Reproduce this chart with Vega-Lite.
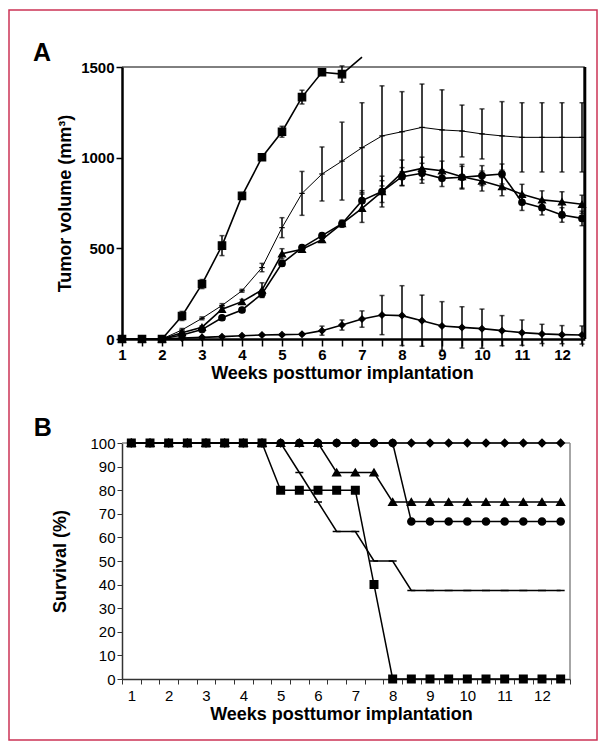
{
"$schema": "https://vega.github.io/schema/vega-lite/v6.json",
"width": 588, "height": 730,
"autosize": {"type": "none"},
"padding": {"left": 9, "top": 10, "right": 9, "bottom": 9},
"background": "white",
"config": {
  "view": {"stroke": "#cc3355", "strokeWidth": 1.5},
  "axis": {"grid": false, "ticks": true, "tickOpacity": 1, "domainColor": "black", "tickColor": "black", "labelColor": "black", "titleColor": "black", "labelFont": "Liberation Sans", "titleFont": "Liberation Sans", "labelFlush": false, "labelOverlap": false},
  "text": {"font": "Liberation Sans"}
},
"datasets": {
"vol": [
{"w":1,"s":"di","v":0,"e":0},{"w":1.5,"s":"di","v":0,"e":0},{"w":2,"s":"di","v":0,"e":0},{"w":2.5,"s":"di","v":5,"e":2},{"w":3,"s":"di","v":9,"e":3},{"w":3.5,"s":"di","v":13,"e":4},{"w":4,"s":"di","v":18,"e":4},{"w":4.5,"s":"di","v":22,"e":4},{"w":5,"s":"di","v":24,"e":5},{"w":5.5,"s":"di","v":26,"e":6},{"w":6,"s":"di","v":46,"e":25},{"w":6.5,"s":"di","v":77,"e":28},{"w":7,"s":"di","v":110,"e":45},{"w":7.5,"s":"di","v":132,"e":108},{"w":8,"s":"di","v":129,"e":165},{"w":8.5,"s":"di","v":101,"e":141},{"w":9,"s":"di","v":72,"e":134},{"w":9.5,"s":"di","v":64,"e":114},{"w":10,"s":"di","v":57,"e":108},{"w":10.5,"s":"di","v":46,"e":83},{"w":11,"s":"di","v":35,"e":70},{"w":11.5,"s":"di","v":28,"e":53},{"w":12,"s":"di","v":24,"e":50},{"w":12.5,"s":"di","v":22,"e":50},
{"w":1,"s":"ci","v":0,"e":0},{"w":1.5,"s":"ci","v":0,"e":0},{"w":2,"s":"ci","v":0,"e":0},{"w":2.5,"s":"ci","v":22,"e":5},{"w":3,"s":"ci","v":52,"e":8},{"w":3.5,"s":"ci","v":117,"e":10},{"w":4,"s":"ci","v":160,"e":10},{"w":4.5,"s":"ci","v":249,"e":20},{"w":5,"s":"ci","v":417,"e":15},{"w":5.5,"s":"ci","v":504,"e":10},{"w":6,"s":"ci","v":570,"e":12},{"w":6.5,"s":"ci","v":636,"e":15},{"w":7,"s":"ci","v":763,"e":55},{"w":7.5,"s":"ci","v":813,"e":85},{"w":8,"s":"ci","v":895,"e":50},{"w":8.5,"s":"ci","v":914,"e":55},{"w":9,"s":"ci","v":886,"e":45},{"w":9.5,"s":"ci","v":892,"e":60},{"w":10,"s":"ci","v":901,"e":55},{"w":10.5,"s":"ci","v":910,"e":55},{"w":11,"s":"ci","v":754,"e":45},{"w":11.5,"s":"ci","v":724,"e":40},{"w":12,"s":"ci","v":684,"e":40},{"w":12.5,"s":"ci","v":665,"e":40},
{"w":1,"s":"tr","v":0,"e":0},{"w":1.5,"s":"tr","v":0,"e":0},{"w":2,"s":"tr","v":0,"e":0},{"w":2.5,"s":"tr","v":35,"e":8},{"w":3,"s":"tr","v":65,"e":8},{"w":3.5,"s":"tr","v":164,"e":12},{"w":4,"s":"tr","v":206,"e":12},{"w":4.5,"s":"tr","v":270,"e":40},{"w":5,"s":"tr","v":470,"e":28},{"w":5.5,"s":"tr","v":495,"e":15},{"w":6,"s":"tr","v":548,"e":15},{"w":6.5,"s":"tr","v":636,"e":20},{"w":7,"s":"tr","v":721,"e":78},{"w":7.5,"s":"tr","v":813,"e":60},{"w":8,"s":"tr","v":917,"e":70},{"w":8.5,"s":"tr","v":941,"e":62},{"w":9,"s":"tr","v":928,"e":53},{"w":9.5,"s":"tr","v":895,"e":68},{"w":10,"s":"tr","v":871,"e":55},{"w":10.5,"s":"tr","v":840,"e":50},{"w":11,"s":"tr","v":798,"e":55},{"w":11.5,"s":"tr","v":767,"e":50},{"w":12,"s":"tr","v":757,"e":55},{"w":12.5,"s":"tr","v":743,"e":50},
{"w":1,"s":"x","v":0,"e":0},{"w":1.5,"s":"x","v":0,"e":0},{"w":2,"s":"x","v":0,"e":0},{"w":2.5,"s":"x","v":50,"e":8},{"w":3,"s":"x","v":114,"e":8},{"w":3.5,"s":"x","v":185,"e":10},{"w":4,"s":"x","v":266,"e":8},{"w":4.5,"s":"x","v":394,"e":23},{"w":5,"s":"x","v":614,"e":55},{"w":5.5,"s":"x","v":803,"e":121},{"w":6,"s":"x","v":910,"e":149},{"w":6.5,"s":"x","v":981,"e":215},{"w":7,"s":"x","v":1055,"e":248},{"w":7.5,"s":"x","v":1120,"e":276},{"w":8,"s":"x","v":1143,"e":221},{"w":8.5,"s":"x","v":1167,"e":239},{"w":9,"s":"x","v":1153,"e":221},{"w":9.5,"s":"x","v":1147,"e":143},{"w":10,"s":"x","v":1131,"e":138},{"w":10.5,"s":"x","v":1120,"e":189},{"w":11,"s":"x","v":1112,"e":191},{"w":11.5,"s":"x","v":1112,"e":191},{"w":12,"s":"x","v":1112,"e":191},{"w":12.5,"s":"x","v":1112,"e":191},
{"w":1,"s":"sq","v":0,"e":0},{"w":1.5,"s":"sq","v":0,"e":0},{"w":2,"s":"sq","v":0,"e":0},{"w":2.5,"s":"sq","v":127,"e":25},{"w":3,"s":"sq","v":303,"e":25},{"w":3.5,"s":"sq","v":515,"e":55},{"w":4,"s":"sq","v":789,"e":10},{"w":4.5,"s":"sq","v":1002,"e":12},{"w":5,"s":"sq","v":1143,"e":30},{"w":5.5,"s":"sq","v":1334,"e":38},{"w":6,"s":"sq","v":1471,"e":12},{"w":6.5,"s":"sq","v":1461,"e":45},{"w":7,"s":"sq","v":1555,"e":0}
],
"surv": [
{"w":1,"s":"di","p":100},{"w":1.5,"s":"di","p":100},{"w":2,"s":"di","p":100},{"w":2.5,"s":"di","p":100},{"w":3,"s":"di","p":100},{"w":3.5,"s":"di","p":100},{"w":4,"s":"di","p":100},{"w":4.5,"s":"di","p":100},{"w":5,"s":"di","p":100},{"w":5.5,"s":"di","p":100},{"w":6,"s":"di","p":100},{"w":6.5,"s":"di","p":100},{"w":7,"s":"di","p":100},{"w":7.5,"s":"di","p":100},{"w":8,"s":"di","p":100},{"w":8.5,"s":"di","p":100},{"w":9,"s":"di","p":100},{"w":9.5,"s":"di","p":100},{"w":10,"s":"di","p":100},{"w":10.5,"s":"di","p":100},{"w":11,"s":"di","p":100},{"w":11.5,"s":"di","p":100},{"w":12,"s":"di","p":100},{"w":12.5,"s":"di","p":100},
{"w":1,"s":"tr","p":100},{"w":1.5,"s":"tr","p":100},{"w":2,"s":"tr","p":100},{"w":2.5,"s":"tr","p":100},{"w":3,"s":"tr","p":100},{"w":3.5,"s":"tr","p":100},{"w":4,"s":"tr","p":100},{"w":4.5,"s":"tr","p":100},{"w":5,"s":"tr","p":100},{"w":5.5,"s":"tr","p":100},{"w":6,"s":"tr","p":100},{"w":6.5,"s":"tr","p":87.5},{"w":7,"s":"tr","p":87.5},{"w":7.5,"s":"tr","p":87.5},{"w":8,"s":"tr","p":75},{"w":8.5,"s":"tr","p":75},{"w":9,"s":"tr","p":75},{"w":9.5,"s":"tr","p":75},{"w":10,"s":"tr","p":75},{"w":10.5,"s":"tr","p":75},{"w":11,"s":"tr","p":75},{"w":11.5,"s":"tr","p":75},{"w":12,"s":"tr","p":75},{"w":12.5,"s":"tr","p":75},
{"w":1,"s":"x","p":100},{"w":1.5,"s":"x","p":100},{"w":2,"s":"x","p":100},{"w":2.5,"s":"x","p":100},{"w":3,"s":"x","p":100},{"w":3.5,"s":"x","p":100},{"w":4,"s":"x","p":100},{"w":4.5,"s":"x","p":100},{"w":5,"s":"x","p":100},{"w":5.5,"s":"x","p":87.5},{"w":6,"s":"x","p":75},{"w":6.5,"s":"x","p":62.5},{"w":7,"s":"x","p":62.5},{"w":7.5,"s":"x","p":50},{"w":8,"s":"x","p":50},{"w":8.5,"s":"x","p":37.5},{"w":9,"s":"x","p":37.5},{"w":9.5,"s":"x","p":37.5},{"w":10,"s":"x","p":37.5},{"w":10.5,"s":"x","p":37.5},{"w":11,"s":"x","p":37.5},{"w":11.5,"s":"x","p":37.5},{"w":12,"s":"x","p":37.5},{"w":12.5,"s":"x","p":37.5},
{"w":1,"s":"ci","p":100},{"w":1.5,"s":"ci","p":100},{"w":2,"s":"ci","p":100},{"w":2.5,"s":"ci","p":100},{"w":3,"s":"ci","p":100},{"w":3.5,"s":"ci","p":100},{"w":4,"s":"ci","p":100},{"w":4.5,"s":"ci","p":100},{"w":5,"s":"ci","p":100},{"w":5.5,"s":"ci","p":100},{"w":6,"s":"ci","p":100},{"w":6.5,"s":"ci","p":100},{"w":7,"s":"ci","p":100},{"w":7.5,"s":"ci","p":100},{"w":8,"s":"ci","p":100},{"w":8.5,"s":"ci","p":66.7},{"w":9,"s":"ci","p":66.7},{"w":9.5,"s":"ci","p":66.7},{"w":10,"s":"ci","p":66.7},{"w":10.5,"s":"ci","p":66.7},{"w":11,"s":"ci","p":66.7},{"w":11.5,"s":"ci","p":66.7},{"w":12,"s":"ci","p":66.7},{"w":12.5,"s":"ci","p":66.7},
{"w":1,"s":"sq","p":100},{"w":1.5,"s":"sq","p":100},{"w":2,"s":"sq","p":100},{"w":2.5,"s":"sq","p":100},{"w":3,"s":"sq","p":100},{"w":3.5,"s":"sq","p":100},{"w":4,"s":"sq","p":100},{"w":4.5,"s":"sq","p":100},{"w":5,"s":"sq","p":80},{"w":5.5,"s":"sq","p":80},{"w":6,"s":"sq","p":80},{"w":6.5,"s":"sq","p":80},{"w":7,"s":"sq","p":80},{"w":7.5,"s":"sq","p":40},{"w":8,"s":"sq","p":0},{"w":8.5,"s":"sq","p":0},{"w":9,"s":"sq","p":0},{"w":9.5,"s":"sq","p":0},{"w":10,"s":"sq","p":0},{"w":10.5,"s":"sq","p":0},{"w":11,"s":"sq","p":0},{"w":11.5,"s":"sq","p":0},{"w":12,"s":"sq","p":0},{"w":12.5,"s":"sq","p":0}
]
},
"layer": [
{
  "data": {"name": "vol"},
  "layer": [
    {
      "transform": [{"filter": "datum.s !== 'x'"}],
      "mark": {"type": "line", "color": "black", "strokeWidth": 1.6},
      "encoding": {
        "x": {"field": "w", "type": "quantitative",
          "scale": {"domain": [1, 12.57], "range": [113, 575.8], "nice": false, "zero": false},
          "axis": {"orient": "bottom", "offset": -401, "values": [1,1.5,2,2.5,3,3.5,4,4.5,5,5.5,6,6.5,7,7.5,8,8.5,9,9.5,10,10.5,11,11.5,12,12.5], "labelExpr": "datum.value % 1 === 0 ? '' + datum.value : ''", "tickSize": 7, "tickWidth": 1.5, "domainWidth": 2.5, "labelFontSize": 15, "labelFontWeight": "bold", "labelPadding": 1, "title": "Weeks posttumor implantation", "titleFontSize": 18, "titleFontWeight": "bold", "titlePadding": 2, "titleX": 333}},
        "y": {"field": "v", "type": "quantitative",
          "scale": {"domain": [0, 1500], "range": [329, 57], "nice": false, "zero": false},
          "axis": {"orient": "left", "offset": -113, "values": [0, 500, 1000, 1500], "format": "d", "tickSize": 6, "tickWidth": 1.5, "domainWidth": 2.5, "labelFontSize": 15, "labelFontWeight": "bold", "labelPadding": 2, "title": "Tumor volume (mm³)", "titleFontSize": 18, "titleFontWeight": "bold", "titlePadding": 6}},
        "detail": {"field": "s", "type": "nominal"}
      }
    },
    {
      "transform": [{"filter": "datum.s === 'x'"}],
      "mark": {"type": "line", "color": "black", "strokeWidth": 1},
      "encoding": {
        "x": {"field": "w", "type": "quantitative",
          "axis": {"orient": "bottom", "offset": -401, "values": [1,1.5,2,2.5,3,3.5,4,4.5,5,5.5,6,6.5,7,7.5,8,8.5,9,9.5,10,10.5,11,11.5,12,12.5], "labelExpr": "datum.value % 1 === 0 ? '' + datum.value : ''", "tickSize": 7, "tickWidth": 1.5, "domainWidth": 2.5, "labelFontSize": 15, "labelFontWeight": "bold", "labelPadding": 1, "title": "Weeks posttumor implantation", "titleFontSize": 18, "titleFontWeight": "bold", "titlePadding": 2, "titleX": 333}},
        "y": {"field": "v", "type": "quantitative",
          "axis": {"orient": "left", "offset": -113, "values": [0, 500, 1000, 1500], "format": "d", "tickSize": 6, "tickWidth": 1.5, "domainWidth": 2.5, "labelFontSize": 15, "labelFontWeight": "bold", "labelPadding": 2, "title": "Tumor volume (mm³)", "titleFontSize": 18, "titleFontWeight": "bold", "titlePadding": 6}}
      }
    },
    {
      "transform": [{"filter": "datum.e > 0 && datum.v <= 1500"}],
      "mark": {"type": "errorbar", "color": "black", "rule": {"strokeWidth": 1.5}, "ticks": {"size": 5, "thickness": 1.5}},
      "encoding": {
        "x": {"field": "w", "type": "quantitative",
          "axis": {"orient": "bottom", "offset": -401, "values": [1,1.5,2,2.5,3,3.5,4,4.5,5,5.5,6,6.5,7,7.5,8,8.5,9,9.5,10,10.5,11,11.5,12,12.5], "labelExpr": "datum.value % 1 === 0 ? '' + datum.value : ''", "tickSize": 7, "tickWidth": 1.5, "domainWidth": 2.5, "labelFontSize": 15, "labelFontWeight": "bold", "labelPadding": 1, "title": "Weeks posttumor implantation", "titleFontSize": 18, "titleFontWeight": "bold", "titlePadding": 2, "titleX": 333}},
        "y": {"field": "v", "type": "quantitative",
          "axis": {"orient": "left", "offset": -113, "values": [0, 500, 1000, 1500], "format": "d", "tickSize": 6, "tickWidth": 1.5, "domainWidth": 2.5, "labelFontSize": 15, "labelFontWeight": "bold", "labelPadding": 2, "title": "Tumor volume (mm³)", "titleFontSize": 18, "titleFontWeight": "bold", "titlePadding": 6}},
        "yError": {"field": "e"}
      }
    },
    {
      "transform": [{"filter": "datum.v <= 1500"}],
      "mark": {"type": "point", "filled": true, "fill": "black", "stroke": "black", "strokeWidth": 1.2, "opacity": 1},
      "encoding": {
        "x": {"field": "w", "type": "quantitative",
          "axis": {"orient": "bottom", "offset": -401, "values": [1,1.5,2,2.5,3,3.5,4,4.5,5,5.5,6,6.5,7,7.5,8,8.5,9,9.5,10,10.5,11,11.5,12,12.5], "labelExpr": "datum.value % 1 === 0 ? '' + datum.value : ''", "tickSize": 7, "tickWidth": 1.5, "domainWidth": 2.5, "labelFontSize": 15, "labelFontWeight": "bold", "labelPadding": 1, "title": "Weeks posttumor implantation", "titleFontSize": 18, "titleFontWeight": "bold", "titlePadding": 2, "titleX": 333}},
        "y": {"field": "v", "type": "quantitative",
          "axis": {"orient": "left", "offset": -113, "values": [0, 500, 1000, 1500], "format": "d", "tickSize": 6, "tickWidth": 1.5, "domainWidth": 2.5, "labelFontSize": 15, "labelFontWeight": "bold", "labelPadding": 2, "title": "Tumor volume (mm³)", "titleFontSize": 18, "titleFontWeight": "bold", "titlePadding": 6}},
        "shape": {"field": "s", "type": "nominal", "legend": null,
          "scale": {"domain": ["sq", "x", "ci", "tr", "di"], "range": ["square", "stroke", "circle", "triangle-up", "diamond"]}},
        "size": {"condition": [{"test": "datum.s === 'sq'", "value": 55}, {"test": "datum.s === 'x'", "value": 30}, {"test": "datum.s === 'di'", "value": 40}, {"test": "datum.s === 'tr'", "value": 50}], "value": 42}
      }
    },
    {
      "data": {"values": [{}]},
      "mark": {"type": "rule", "color": "black", "strokeWidth": 1},
      "encoding": {
        "x": {"datum": 1, "type": "quantitative",
          "axis": {"orient": "bottom", "offset": -401, "values": [1,1.5,2,2.5,3,3.5,4,4.5,5,5.5,6,6.5,7,7.5,8,8.5,9,9.5,10,10.5,11,11.5,12,12.5], "labelExpr": "datum.value % 1 === 0 ? '' + datum.value : ''", "tickSize": 7, "tickWidth": 1.5, "domainWidth": 2.5, "labelFontSize": 15, "labelFontWeight": "bold", "labelPadding": 1, "title": "Weeks posttumor implantation", "titleFontSize": 18, "titleFontWeight": "bold", "titlePadding": 2, "titleX": 333}},
        "x2": {"datum": 12.57},
        "y": {"datum": 1500, "type": "quantitative",
          "axis": {"orient": "left", "offset": -113, "values": [0, 500, 1000, 1500], "format": "d", "tickSize": 6, "tickWidth": 1.5, "domainWidth": 2.5, "labelFontSize": 15, "labelFontWeight": "bold", "labelPadding": 2, "title": "Tumor volume (mm³)", "titleFontSize": 18, "titleFontWeight": "bold", "titlePadding": 6}}
      }
    },
    {
      "data": {"values": [{}]},
      "mark": {"type": "rule", "color": "black", "strokeWidth": 3},
      "encoding": {
        "x": {"datum": 12.57, "type": "quantitative",
          "axis": {"orient": "bottom", "offset": -401, "values": [1,1.5,2,2.5,3,3.5,4,4.5,5,5.5,6,6.5,7,7.5,8,8.5,9,9.5,10,10.5,11,11.5,12,12.5], "labelExpr": "datum.value % 1 === 0 ? '' + datum.value : ''", "tickSize": 7, "tickWidth": 1.5, "domainWidth": 2.5, "labelFontSize": 15, "labelFontWeight": "bold", "labelPadding": 1, "title": "Weeks posttumor implantation", "titleFontSize": 18, "titleFontWeight": "bold", "titlePadding": 2, "titleX": 333}},
        "y": {"datum": 0, "type": "quantitative",
          "axis": {"orient": "left", "offset": -113, "values": [0, 500, 1000, 1500], "format": "d", "tickSize": 6, "tickWidth": 1.5, "domainWidth": 2.5, "labelFontSize": 15, "labelFontWeight": "bold", "labelPadding": 2, "title": "Tumor volume (mm³)", "titleFontSize": 18, "titleFontWeight": "bold", "titlePadding": 6}},
        "y2": {"datum": 1500}
      }
    },
    {
      "data": {"values": [{}]},
      "mark": {"type": "text", "text": "A", "fontSize": 25, "fontWeight": "bold", "align": "center", "baseline": "middle", "color": "black"},
      "encoding": {
        "x": {"datum": -1, "type": "quantitative",
          "axis": {"orient": "bottom", "offset": -401, "values": [1,1.5,2,2.5,3,3.5,4,4.5,5,5.5,6,6.5,7,7.5,8,8.5,9,9.5,10,10.5,11,11.5,12,12.5], "labelExpr": "datum.value % 1 === 0 ? '' + datum.value : ''", "tickSize": 7, "tickWidth": 1.5, "domainWidth": 2.5, "labelFontSize": 15, "labelFontWeight": "bold", "labelPadding": 1, "title": "Weeks posttumor implantation", "titleFontSize": 18, "titleFontWeight": "bold", "titlePadding": 2, "titleX": 333}},
        "y": {"datum": 1577, "type": "quantitative",
          "axis": {"orient": "left", "offset": -113, "values": [0, 500, 1000, 1500], "format": "d", "tickSize": 6, "tickWidth": 1.5, "domainWidth": 2.5, "labelFontSize": 15, "labelFontWeight": "bold", "labelPadding": 2, "title": "Tumor volume (mm³)", "titleFontSize": 18, "titleFontWeight": "bold", "titlePadding": 6}}
      }
    }
  ]
},
{
  "data": {"name": "surv"},
  "layer": [
    {
      "data": {"values": [{}]},
      "mark": {"type": "rule", "color": "#888888", "strokeWidth": 1.5},
      "encoding": {
        "x": {"datum": 12.75, "type": "quantitative",
          "scale": {"domain": [0.75, 12.75], "range": [113, 561], "nice": false, "zero": false},
          "axis": {"orient": "bottom", "offset": -61, "values": [0.75,1.25,1.75,2.25,2.75,3.25,3.75,4.25,4.75,5.25,5.75,6.25,6.75,7.25,7.75,8.25,8.75,9.25,9.75,10.25,10.75,11.25,11.75,12.25,12.75], "labelExpr": "(datum.value - 0.75) % 1 === 0 && datum.value < 12.5 ? '' + (datum.value + 0.25) : ''", "labelOffset": 9.3, "tickSize": 5, "tickWidth": 1, "tickColor": "#333333", "domainColor": "#333333", "domainWidth": 1.5, "labelFontSize": 15, "labelPadding": 4, "title": "Weeks posttumor implantation", "titleFontSize": 18, "titleFontWeight": "bold", "titlePadding": 2, "titleX": 332}},
        "y": {"datum": 0, "type": "quantitative",
          "scale": {"domain": [0, 100], "range": [669, 433], "nice": false, "zero": false},
          "axis": {"orient": "left", "offset": -113, "values": [0,10,20,30,40,50,60,70,80,90,100], "tickSize": 5, "tickWidth": 1, "tickColor": "#333333", "domainColor": "#333333", "domainWidth": 1.5, "labelFontSize": 15, "labelPadding": 2, "title": "Survival (%)", "titleFontSize": 18, "titleFontWeight": "bold", "titlePadding": 20}},
        "y2": {"datum": 100}
      }
    },
    {
      "data": {"values": [{}]},
      "mark": {"type": "rule", "color": "#888888", "strokeWidth": 1.5},
      "encoding": {
        "x": {"datum": 0.75, "type": "quantitative",
          "axis": {"orient": "bottom", "offset": -61, "values": [0.75,1.25,1.75,2.25,2.75,3.25,3.75,4.25,4.75,5.25,5.75,6.25,6.75,7.25,7.75,8.25,8.75,9.25,9.75,10.25,10.75,11.25,11.75,12.25,12.75], "labelExpr": "(datum.value - 0.75) % 1 === 0 && datum.value < 12.5 ? '' + (datum.value + 0.25) : ''", "labelOffset": 9.3, "tickSize": 5, "tickWidth": 1, "tickColor": "#333333", "domainColor": "#333333", "domainWidth": 1.5, "labelFontSize": 15, "labelPadding": 4, "title": "Weeks posttumor implantation", "titleFontSize": 18, "titleFontWeight": "bold", "titlePadding": 2, "titleX": 332}},
        "x2": {"datum": 12.75},
        "y": {"datum": 100, "type": "quantitative",
          "axis": {"orient": "left", "offset": -113, "values": [0,10,20,30,40,50,60,70,80,90,100], "tickSize": 5, "tickWidth": 1, "tickColor": "#333333", "domainColor": "#333333", "domainWidth": 1.5, "labelFontSize": 15, "labelPadding": 2, "title": "Survival (%)", "titleFontSize": 18, "titleFontWeight": "bold", "titlePadding": 20}}
      }
    },
    {
      "mark": {"type": "line", "color": "black", "strokeWidth": 1.5},
      "encoding": {
        "x": {"field": "w", "type": "quantitative",
          "axis": {"orient": "bottom", "offset": -61, "values": [0.75,1.25,1.75,2.25,2.75,3.25,3.75,4.25,4.75,5.25,5.75,6.25,6.75,7.25,7.75,8.25,8.75,9.25,9.75,10.25,10.75,11.25,11.75,12.25,12.75], "labelExpr": "(datum.value - 0.75) % 1 === 0 && datum.value < 12.5 ? '' + (datum.value + 0.25) : ''", "labelOffset": 9.3, "tickSize": 5, "tickWidth": 1, "tickColor": "#333333", "domainColor": "#333333", "domainWidth": 1.5, "labelFontSize": 15, "labelPadding": 4, "title": "Weeks posttumor implantation", "titleFontSize": 18, "titleFontWeight": "bold", "titlePadding": 2, "titleX": 332}},
        "y": {"field": "p", "type": "quantitative",
          "axis": {"orient": "left", "offset": -113, "values": [0,10,20,30,40,50,60,70,80,90,100], "tickSize": 5, "tickWidth": 1, "tickColor": "#333333", "domainColor": "#333333", "domainWidth": 1.5, "labelFontSize": 15, "labelPadding": 2, "title": "Survival (%)", "titleFontSize": 18, "titleFontWeight": "bold", "titlePadding": 20}},
        "detail": {"field": "s", "type": "nominal"}
      }
    },
    {
      "mark": {"type": "point", "filled": true, "fill": "black", "stroke": "black", "strokeWidth": 1.5, "opacity": 1},
      "encoding": {
        "x": {"field": "w", "type": "quantitative",
          "axis": {"orient": "bottom", "offset": -61, "values": [0.75,1.25,1.75,2.25,2.75,3.25,3.75,4.25,4.75,5.25,5.75,6.25,6.75,7.25,7.75,8.25,8.75,9.25,9.75,10.25,10.75,11.25,11.75,12.25,12.75], "labelExpr": "(datum.value - 0.75) % 1 === 0 && datum.value < 12.5 ? '' + (datum.value + 0.25) : ''", "labelOffset": 9.3, "tickSize": 5, "tickWidth": 1, "tickColor": "#333333", "domainColor": "#333333", "domainWidth": 1.5, "labelFontSize": 15, "labelPadding": 4, "title": "Weeks posttumor implantation", "titleFontSize": 18, "titleFontWeight": "bold", "titlePadding": 2, "titleX": 332}},
        "y": {"field": "p", "type": "quantitative",
          "axis": {"orient": "left", "offset": -113, "values": [0,10,20,30,40,50,60,70,80,90,100], "tickSize": 5, "tickWidth": 1, "tickColor": "#333333", "domainColor": "#333333", "domainWidth": 1.5, "labelFontSize": 15, "labelPadding": 2, "title": "Survival (%)", "titleFontSize": 18, "titleFontWeight": "bold", "titlePadding": 20}},
        "shape": {"field": "s", "type": "nominal", "legend": null,
          "scale": {"domain": ["sq", "x", "ci", "tr", "di"], "range": ["square", "stroke", "circle", "triangle-up", "diamond"]}},
        "size": {"condition": [{"test": "datum.s === 'sq'", "value": 56}, {"test": "datum.s === 'x'", "value": 64}, {"test": "datum.s === 'di'", "value": 55}, {"test": "datum.s === 'tr'", "value": 60}], "value": 50}
      }
    },
    {
      "data": {"values": [{}]},
      "mark": {"type": "text", "text": "B", "fontSize": 25, "fontWeight": "bold", "align": "center", "baseline": "middle", "color": "black"},
      "encoding": {
        "x": {"datum": -1.37, "type": "quantitative",
          "axis": {"orient": "bottom", "offset": -61, "values": [0.75,1.25,1.75,2.25,2.75,3.25,3.75,4.25,4.75,5.25,5.75,6.25,6.75,7.25,7.75,8.25,8.75,9.25,9.75,10.25,10.75,11.25,11.75,12.25,12.75], "labelExpr": "(datum.value - 0.75) % 1 === 0 && datum.value < 12.5 ? '' + (datum.value + 0.25) : ''", "labelOffset": 9.3, "tickSize": 5, "tickWidth": 1, "tickColor": "#333333", "domainColor": "#333333", "domainWidth": 1.5, "labelFontSize": 15, "labelPadding": 4, "title": "Weeks posttumor implantation", "titleFontSize": 18, "titleFontWeight": "bold", "titlePadding": 2, "titleX": 332}},
        "y": {"datum": 106.4, "type": "quantitative",
          "axis": {"orient": "left", "offset": -113, "values": [0,10,20,30,40,50,60,70,80,90,100], "tickSize": 5, "tickWidth": 1, "tickColor": "#333333", "domainColor": "#333333", "domainWidth": 1.5, "labelFontSize": 15, "labelPadding": 2, "title": "Survival (%)", "titleFontSize": 18, "titleFontWeight": "bold", "titlePadding": 20}}
      }
    }
  ]
}
],
"resolve": {"scale": {"x": "independent", "y": "independent", "shape": "independent"}, "axis": {"x": "independent", "y": "independent"}}
}
